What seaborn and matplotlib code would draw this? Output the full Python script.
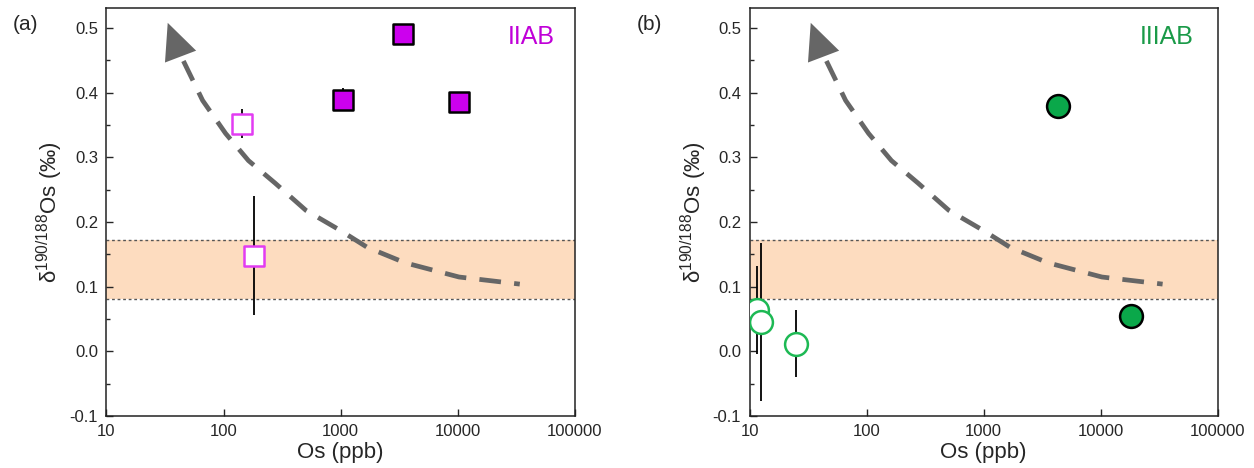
import numpy as np
import pandas as pd
import seaborn as sns
import matplotlib.pyplot as plt
from matplotlib.patches import FancyArrowPatch
from matplotlib.ticker import MultipleLocator

# ---- data ----
# panel (a) IIAB
iiab_open_x = [144, 183]
iiab_open_y = [0.352, 0.148]
iiab_open_err = [0.022, 0.092]
iiab_fill_x = [1054, 3436, 10230]
iiab_fill_y = [0.389, 0.490, 0.385]
iiab_fill_err = [0.018, 0.0, 0.0]

# panel (b) IIIAB
iiiab_open_x = [11.5, 12.6, 25.0]
iiiab_open_y = [0.064, 0.045, 0.012]
iiiab_open_err = [0.068, 0.122, 0.052]
iiiab_fill_x = [4340, 18300]
iiiab_fill_y = [0.379, 0.054]

# schematic trend curve (same in both panels)
curve_x = [45.4, 66.2, 104, 163, 276, 505, 993, 1680, 3540, 10230, 33800]
curve_y = [0.449, 0.388, 0.337, 0.295, 0.260, 0.218, 0.187, 0.161, 0.137, 0.115, 0.104]
arrow_tail = (45, 0.446)
arrow_tip = (32.7, 0.512)

# reference band
band_lo, band_hi = 0.081, 0.172

xtick_vals = [10, 100, 1000, 10000, 100000]
xtick_labels = ['10', '100', '1000', '10000', '100000']
ytick_vals = [-0.1, 0.0, 0.1, 0.2, 0.3, 0.4, 0.5]
ytick_labels = ['-0.1', '0.0', '0.1', '0.2', '0.3', '0.4', '0.5']

sns.set_style('ticks')
plt.rcParams['font.family'] = ['Liberation Sans', 'DejaVu Sans']
plt.rcParams['mathtext.fontset'] = 'custom'
plt.rcParams['mathtext.rm'] = 'Liberation Sans'

fig = plt.figure(figsize=(12.54, 4.68), dpi=100)
ax_a = fig.add_axes([0.0849, 0.111, 0.3736, 0.872])
ax_b = fig.add_axes([0.5977, 0.111, 0.3734, 0.872])


def setup(ax):
    ax.set_xscale('log')
    ax.set_xlim(10, 100000)
    ax.set_ylim(-0.1, 0.531)
    ax.axhspan(band_lo, band_hi, color='#fddcbf', lw=0, zorder=0)
    ax.axhline(band_lo, color='#555555', lw=1, ls=(0, (2, 2)), zorder=1)
    ax.axhline(band_hi, color='#555555', lw=1, ls=(0, (2, 2)), zorder=1)
    # trend curve
    sns.lineplot(x=curve_x, y=curve_y, ax=ax, color='#666666', lw=3.4,
                 sort=False, zorder=2)
    ax.lines[-1].set_dashes((4.6, 2.8))
    ax.lines[-1].set_dash_capstyle('butt')
    arr = FancyArrowPatch(arrow_tail, arrow_tip,
                          arrowstyle='-|>,head_length=1.3,head_width=0.6',
                          mutation_scale=20, color='#666666', lw=0, zorder=2)
    ax.add_patch(arr)
    ax.set_xticks(xtick_vals, xtick_labels)
    ax.xaxis.set_minor_locator(plt.NullLocator())
    ax.set_yticks(ytick_vals, ytick_labels)
    ax.yaxis.set_minor_locator(MultipleLocator(0.05))
    ax.tick_params(which='major', direction='in', length=5, width=1,
                   labelsize=12, top=False, right=False, pad=6)
    ax.tick_params(which='minor', direction='in', length=3, width=1,
                   top=False, right=False)
    for s in ax.spines.values():
        s.set_visible(True)
        s.set_linewidth(1.1)
        s.set_color('#222222')
    ax.set_xlabel('Os (ppb)', fontsize=16, labelpad=2)
    ax.set_ylabel('δ$^{190/188}$Os (‰)', fontsize=16, labelpad=3)


setup(ax_a)
setup(ax_b)

# panel (a)
ax_a.errorbar(iiab_open_x, iiab_open_y, yerr=iiab_open_err, fmt='none',
              ecolor='black', elinewidth=1.3, zorder=3)
ax_a.errorbar(iiab_fill_x, iiab_fill_y, yerr=iiab_fill_err, fmt='none',
              ecolor='black', elinewidth=1.3, zorder=3)
sns.scatterplot(x=iiab_open_x, y=iiab_open_y, ax=ax_a, marker='s', s=210,
                facecolor='white', edgecolor='#e23cf2', linewidth=1.8, zorder=4)
sns.scatterplot(x=iiab_fill_x, y=iiab_fill_y, ax=ax_a, marker='s', s=210,
                facecolor='#cc00ee', edgecolor='black', linewidth=1.8, zorder=4)
ax_a.text(0.906, 0.930, 'IIAB', transform=ax_a.transAxes, fontsize=18,
          color='#c000d8', ha='center', va='center')

# panel (b)
ax_b.errorbar(iiiab_open_x, iiiab_open_y, yerr=iiiab_open_err, fmt='none',
              ecolor='black', elinewidth=1.3, zorder=3)
sns.scatterplot(x=iiiab_open_x, y=iiiab_open_y, ax=ax_b, marker='o', s=270,
                facecolor='white', edgecolor='#1db954', linewidth=1.8, zorder=4)
sns.scatterplot(x=iiiab_fill_x, y=iiiab_fill_y, ax=ax_b, marker='o', s=270,
                facecolor='#0aa84a', edgecolor='black', linewidth=1.8, zorder=4)
ax_b.text(0.890, 0.928, 'IIIAB', transform=ax_b.transAxes, fontsize=18,
          color='#1a9a48', ha='center', va='center')

fig.text(25 / 1254, 1 - 25 / 468, '(a)', fontsize=15, ha='center', va='center')
fig.text(649 / 1254, 1 - 25 / 468, '(b)', fontsize=15, ha='center', va='center')

fig.savefig('out.png', dpi=100)
